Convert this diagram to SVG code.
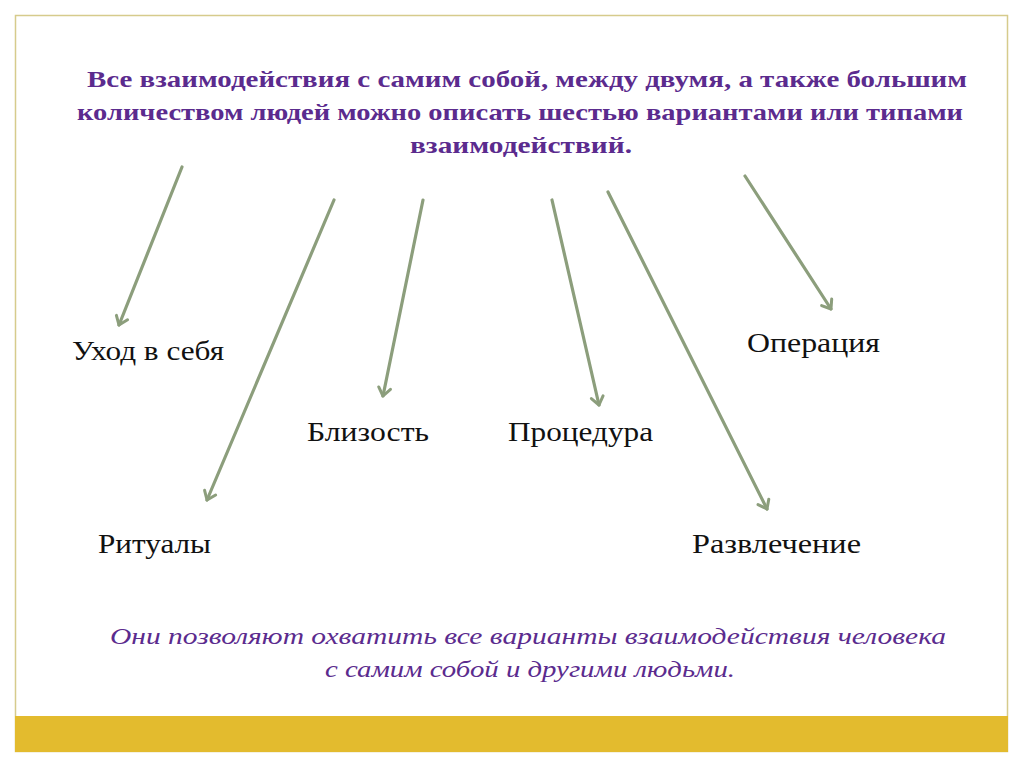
<svg xmlns="http://www.w3.org/2000/svg" width="1024" height="767" viewBox="0 0 1024 767">
<style>
.title{font-family:"Liberation Serif",serif;font-weight:bold;font-size:23px;fill:#5B2B8E}
.lbl{font-family:"Liberation Serif",serif;font-size:27px;fill:#111}
.note{font-family:"Liberation Serif",serif;font-style:italic;font-size:23px;fill:#5B2B8E}
.conn line{stroke:#8C9E7C;stroke-width:3.2;stroke-linecap:round;marker-end:url(#ah)}
</style>
<defs>
<marker id="ah" markerUnits="userSpaceOnUse" markerWidth="16" markerHeight="16" viewBox="-10 -8 12 16" refX="0" refY="0" orient="auto">
<path d="M-8,-6 L0,0 L-8,6" fill="none" stroke="#8C9E7C" stroke-width="3" stroke-linecap="round" stroke-linejoin="round"/>
</marker>
</defs>
<rect width="1024" height="767" fill="#ffffff"/>
<g id="frame">
<rect x="15.5" y="15.5" width="992" height="736" fill="#ffffff" stroke="#D6CB8C" stroke-width="1.5"/>
<rect x="15" y="716" width="993" height="36" fill="#E3BB2E"/>
</g>
<g id="title">
<text class="title" x="87" y="87" textLength="880" lengthAdjust="spacingAndGlyphs">Все взаимодействия с самим собой, между двумя, а также большим</text>
<text class="title" x="77" y="120" textLength="886" lengthAdjust="spacingAndGlyphs">количеством людей можно описать шестью вариантами или типами</text>
<text class="title" x="410" y="153" textLength="222" lengthAdjust="spacingAndGlyphs">взаимодействий.</text>
</g>
<g class="conn" id="connectors">
<line x1="182" y1="167" x2="119" y2="325"/>
<line x1="334" y1="200" x2="207" y2="500"/>
<line x1="423" y1="200" x2="383" y2="396"/>
<line x1="552" y1="200" x2="599" y2="405"/>
<line x1="608" y1="192" x2="767" y2="509"/>
<line x1="745" y1="176" x2="831" y2="309"/>
</g>
<g id="n-uhod"><text class="lbl" x="72" y="360" textLength="152" lengthAdjust="spacingAndGlyphs">Уход в себя</text></g>
<g id="n-blizost"><text class="lbl" x="307" y="441" textLength="122" lengthAdjust="spacingAndGlyphs">Близость</text></g>
<g id="n-procedura"><text class="lbl" x="508" y="441" textLength="145" lengthAdjust="spacingAndGlyphs">Процедура</text></g>
<g id="n-operacia"><text class="lbl" x="747" y="352" textLength="133" lengthAdjust="spacingAndGlyphs">Операция</text></g>
<g id="n-ritualy"><text class="lbl" x="98" y="553" textLength="113" lengthAdjust="spacingAndGlyphs">Ритуалы</text></g>
<g id="n-razvlechenie"><text class="lbl" x="692" y="553" textLength="169" lengthAdjust="spacingAndGlyphs">Развлечение</text></g>
<g id="note">
<text class="note" x="110" y="644" textLength="836" lengthAdjust="spacingAndGlyphs">Они  позволяют охватить все варианты взаимодействия человека</text>
<text class="note" x="325" y="677" textLength="410" lengthAdjust="spacingAndGlyphs">с самим собой и другими людьми.</text>
</g>
</svg>
